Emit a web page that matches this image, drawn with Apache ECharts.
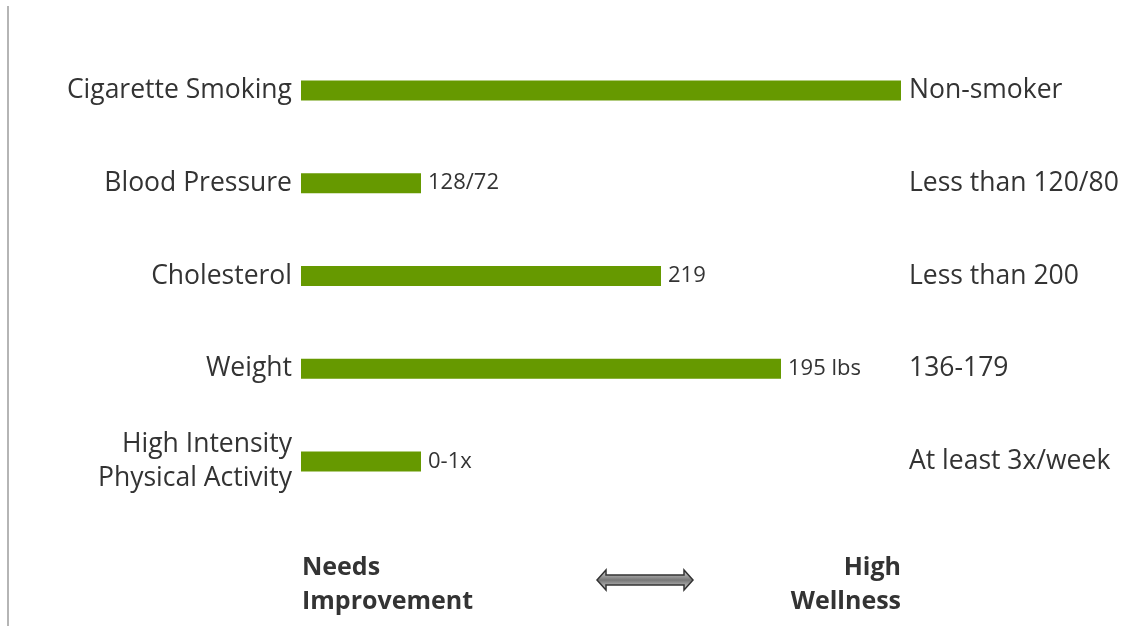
<!DOCTYPE html>
<html lang="en">
<head>
    <meta charset="UTF-8">
    <title>Wellness profile</title>
    <script src="https://cdn.jsdelivr.net/npm/echarts@6/dist/echarts.min.js"></script>
    <style>
        html, body { margin: 0; padding: 0; background: #fff; }
        #main { width: 1147px; height: 629px; }
    </style>
</head>
<body>
<div id="main"></div>
<script>
    // rows, top to bottom
    var categories = ['Cigarette Smoking', 'Blood Pressure', 'Cholesterol', 'Weight', 'High Intensity\nPhysical Activity'];
    var scores = [5, 1, 3, 4, 1];                 // 0 = needs improvement, 5 = high wellness
    var valueLabels = ['', '128/72', '219', '195 lbs', '0-1x'];
    var goals = ['Non-smoker', 'Less than 120/80', 'Less than 200', '136-179', 'At least 3x/week'];

    var txt = '#333333';
    var fam = '"Open Sans"';
    var chart = echarts.init(document.getElementById('main'));
    var option = {
        animation: false,
        grid: { left: 301, right: 246, top: 44, height: 464 },
        xAxis: {
            type: 'value', min: 0, max: 5, interval: 1,
            show: false
        },
        yAxis: [{
            type: 'category', inverse: true, data: categories,
            axisLine: { show: false }, axisTick: { show: false },
            axisLabel: { color: txt, fontFamily: fam, fontSize: 26.5, margin: 9, lineHeight: 34, align: 'right' }
        }, {
            type: 'category', inverse: true, data: goals, position: 'right',
            axisLine: { show: false }, axisTick: { show: false },
            axisLabel: { color: txt, fontFamily: fam, fontSize: 26.5, margin: 8, align: 'left' }
        }],
        series: [{
            type: 'bar',
            data: scores,
            barWidth: 20,
            itemStyle: { color: '#669900' },
            label: {
                show: true, position: 'right', distance: 7,
                color: txt, fontFamily: fam, fontSize: 22,
                formatter: function (p) { return valueLabels[p.dataIndex]; }
            }
        }],
        graphic: [
            { type: 'line', shape: { x1: 8, y1: 6, x2: 8, y2: 626 }, style: { stroke: '#b5b5b5', lineWidth: 2 } },
            { type: 'text', x: 302, y: 551, style: { text: 'Needs\nImprovement', fill: txt, font: 'bold 25px "Open Sans"', lineHeight: 34, align: 'left' } },
            { type: 'text', x: 901, y: 551, style: { text: 'High\nWellness', fill: txt, font: 'bold 25px "Open Sans"', lineHeight: 34, align: 'right' } },
            {
                type: 'polygon',
                shape: { points: [[597, 580], [606, 570], [606, 575], [684, 575], [684, 570], [693, 580], [684, 590], [684, 585], [606, 585], [606, 590]] },
                style: {
                    fill: new echarts.graphic.LinearGradient(0, 0, 0, 1, [
                        { offset: 0, color: '#dddddd' },
                        { offset: 0.5, color: '#777777' },
                        { offset: 1, color: '#dddddd' }
                    ]),
                    stroke: '#333333', lineWidth: 1.5
                }
            }
        ]
    };
    chart.setOption(option);
</script>
</body>
</html>
